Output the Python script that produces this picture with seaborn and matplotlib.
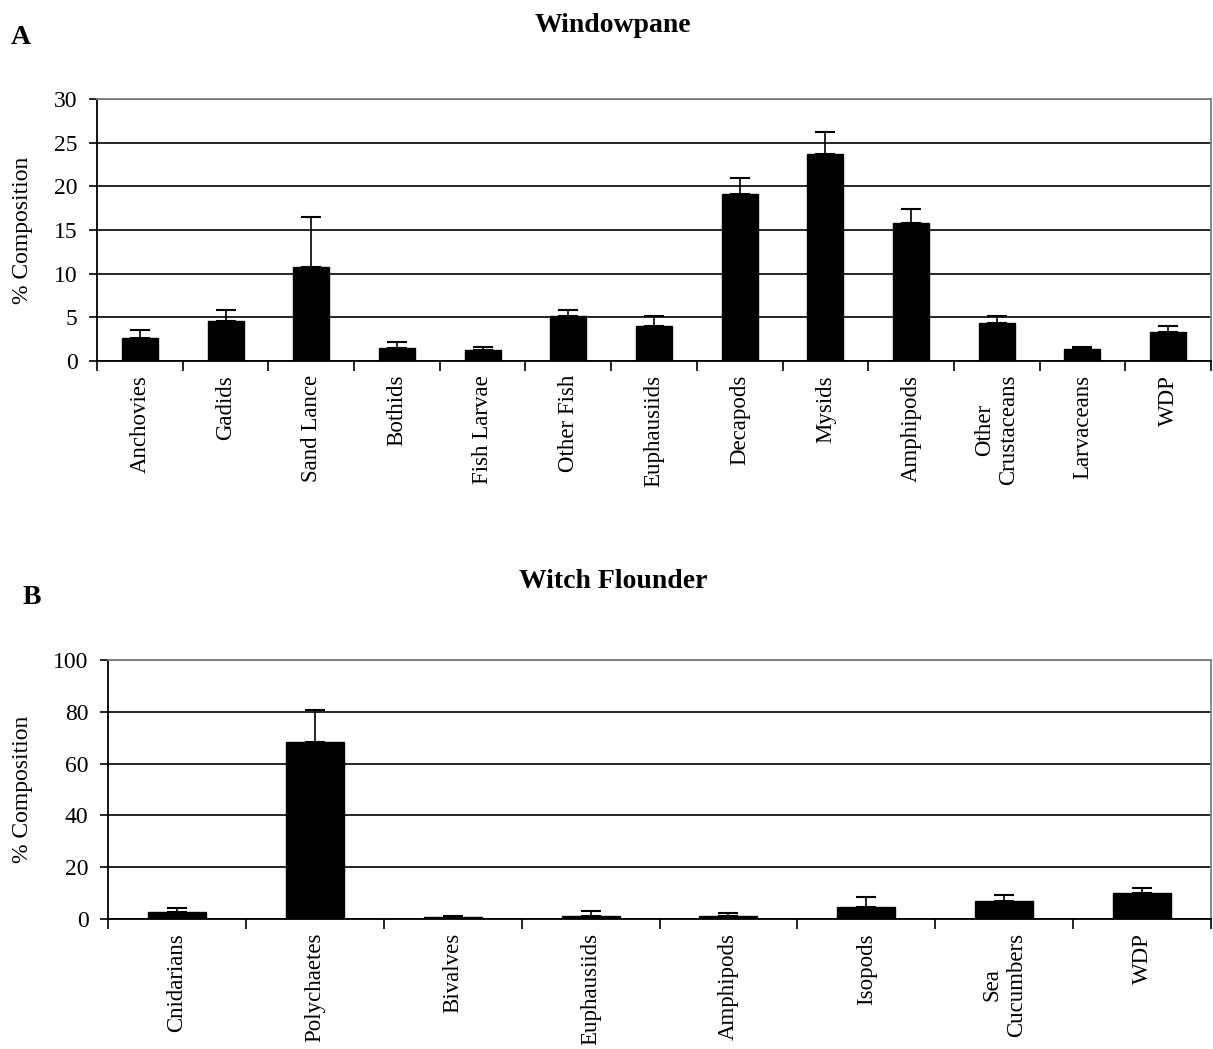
import numpy as np
import pandas as pd
import matplotlib
matplotlib.use("Agg")
import matplotlib.pyplot as plt
import seaborn as sns

# Panel A - Windowpane
wp_prey = ["Anchovies", "Gadids", "Sand Lance", "Bothids", "Fish Larvae",
           "Other Fish", "Euphausiids", "Decapods", "Mysids", "Amphipods",
           "Other\nCrustaceans", "Larvaceans", "WDP"]
wp_mean = [2.6, 4.6, 10.8, 1.5, 1.3, 5.15, 4.05, 19.1, 23.7, 15.8, 4.3, 1.33, 3.36]
wp_se = [0.9, 1.25, 5.7, 0.7, 0.35, 0.7, 1.1, 1.8, 2.5, 1.6, 0.85, 0.32, 0.7]

# Panel B - Witch Flounder
wf_prey = ["Cnidarians", "Polychaetes", "Bivalves", "Euphausiids", "Amphipods",
           "Isopods", "Sea\nCucumbers", "WDP"]
wf_mean = [2.6, 68.5, 0.8, 1.3, 1.3, 4.5, 6.8, 10.0]
wf_se = [1.8, 12.3, 0.5, 1.8, 1.2, 4.1, 2.4, 1.8]

SERIF = ["Liberation Serif", "DejaVu Serif"]

sns.set_style("white")
plt.rcParams["font.family"] = SERIF
plt.rcParams["font.serif"] = SERIF
plt.rcParams["font.size"] = 17
for key in ["text.color", "axes.labelcolor", "xtick.color", "ytick.color"]:
    plt.rcParams[key] = "black"

W, H = 1213, 1049


def draw_panel(ax, prey, mean, se, ymax, ystep, left_px):
    df = pd.DataFrame({"prey": prey, "mean": mean, "se": se})
    sns.barplot(data=df, x="prey", y="mean", color="black", edgecolor="black",
                width=0.42, errorbar=None, ax=ax, zorder=3)
    n = len(prey)
    ax.errorbar(np.arange(n), df["mean"], yerr=[np.zeros(n), df["se"]],
                fmt="none", ecolor="black", elinewidth=1.2, capsize=7,
                capthick=1.5, zorder=4)
    ax.set_xlim(-0.5, n - 0.5)
    ax.set_ylim(0, ymax)
    yt = np.arange(0, ymax + ystep, ystep)
    ax.set_yticks(yt)
    ax.set_yticklabels([str(v) for v in yt], family=SERIF, fontsize=17)
    ax.yaxis.grid(True, color="black", linewidth=1.2, zorder=0)
    ax.set_axisbelow(True)
    # category boundaries as major ticks, labels on minor ticks
    ax.set_xticks(np.arange(n + 1) - 0.5)
    ax.set_xticklabels([])
    ax.set_xticks(np.arange(n), minor=True)
    ax.set_xticklabels(prey, minor=True, rotation=90, fontsize=16.5,
                       family=SERIF, ha="center", va="top",
                       multialignment="center")
    ax.tick_params(axis="x", which="minor", length=0, pad=10)
    ax.tick_params(axis="x", which="major", direction="out", length=7,
                   width=1.2, color="black", bottom=True)
    ax.tick_params(axis="y", direction="out", length=6, width=1.2,
                   color="black", left=True, pad=8)
    ax.set_xlabel("")
    ax.set_ylabel("% Composition", fontsize=17, family=SERIF)
    ax_w = ax.get_position().width * W
    ax.yaxis.set_label_coords((33 - left_px) / ax_w, 0.5)
    for side in ["left", "bottom"]:
        ax.spines[side].set_color("black")
        ax.spines[side].set_linewidth(1.3)
    for side in ["top", "right"]:
        ax.spines[side].set_color("gray")
        ax.spines[side].set_linewidth(1.3)


fig = plt.figure(figsize=(12.13, 10.49), dpi=100)
ax1 = fig.add_axes([97 / W, 1 - 361 / H, (1211 - 97) / W, (361 - 99) / H])
ax2 = fig.add_axes([108 / W, 1 - 919 / H, (1211 - 108) / W, (919 - 660) / H])

draw_panel(ax1, wp_prey, wp_mean, wp_se, 30, 5, 97)
draw_panel(ax2, wf_prey, wf_mean, wf_se, 100, 20, 108)

fig.text(613 / W, 1 - 25 / H, "Windowpane", ha="center", va="center",
         fontsize=20, fontweight="bold", family=SERIF)
fig.text(21 / W, 1 - 38 / H, "A", ha="center", va="center",
         fontsize=20, fontweight="bold", family=SERIF)
fig.text(613 / W, 1 - 582 / H, "Witch Flounder", ha="center", va="center",
         fontsize=20, fontweight="bold", family=SERIF)
fig.text(32 / W, 1 - 597 / H, "B", ha="center", va="center",
         fontsize=20, fontweight="bold", family=SERIF)

fig.savefig("out.png", dpi=100)
plt.close(fig)
